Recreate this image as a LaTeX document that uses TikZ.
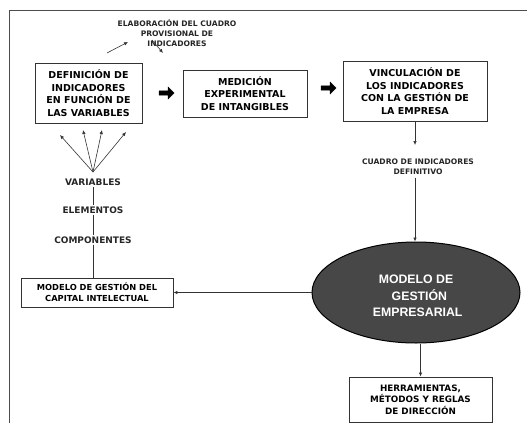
\documentclass[tikz,border=0pt]{standalone}
\usepackage{fontspec}
\setmainfont{DejaVu Sans}
\newfontfamily\arialfont{Liberation Sans}
\usetikzlibrary{arrows.meta,shapes.geometric,shapes.arrows}
\begin{document}
\begin{tikzpicture}[x=1pt,y=-1pt,
  box/.style={draw=black!80,line width=0.9pt,align=center,font=\bfseries\fontsize{9.5}{12.5}\selectfont,inner sep=0pt,fill=white},
  lbl/.style={align=center,font=\bfseries\fontsize{7.6}{10}\selectfont,inner sep=1pt,text=black!85},
  vlbl/.style={align=center,font=\bfseries\fontsize{9}{10}\selectfont,inner sep=1pt,text=black!85},
  conn/.style={draw=black!80,line width=0.6pt},
  arr/.style={conn,-{Latex[length=4pt,width=3.5pt]}},
  fat/.style={single arrow,fill=black,draw=black,minimum height=15pt,minimum width=12pt,single arrow head extend=2.5pt,single arrow head indent=0pt,inner sep=1.2pt}]
\useasboundingbox (0,0) rectangle (527,423);
\draw[black!70,line width=1pt] (527,10) -- (9,10) -- (9,423);
% boxes
\node[box,minimum width=107pt,minimum height=60pt] (def) at (88.5,93) {DEFINICIÓN DE\\INDICADORES\\EN FUNCIÓN DE\\LAS VARIABLES};
\node[box,minimum width=124pt,minimum height=47pt] (med) at (245,93.5) {MEDICIÓN\\EXPERIMENTAL\\DE INTANGIBLES};
\node[box,minimum width=144pt,minimum height=60pt] (vin) at (415,91) {VINCULACIÓN DE\\LOS INDICADORES\\CON LA GESTIÓN DE\\LA EMPRESA};
\node[fat] (f1) at (165.5,93) {};
\node[fat] (f2) at (327.5,88) {};
% top label
\node[lbl] (ela) at (177,33) {ELABORACIÓN DEL CUADRO\\PROVISIONAL DE\\INDICADORES};
\coordinate (e1s) at (107,53);
\coordinate (e1e) at (128,42);
\coordinate (e2s) at (152,40);
\coordinate (e2e) at (163,53);
\draw[arr] (e1s) -- (e1e);
\draw[arr] (e2s) -- (e2e);
% cuadro definitivo
\node[lbl] (cua) at (418,166.5) {CUADRO DE INDICADORES\\DEFINITIVO};
\node[ellipse,draw=black,line width=1pt,fill=black!72,minimum width=208pt,minimum height=101pt,inner sep=0pt] (mod) at (416,292.5) {};
\node[align=center,text=white,font=\arialfont\bfseries\fontsize{12.3}{16.5}\selectfont] (modt) at (416,296) {MODELO DE\\\ \ GESTIÓN\\\ EMPRESARIAL};
\draw[arr] (vin.south -| 415,0) -- (415,145);
\draw[arr] (cua.south -| 415,0) ++(0,2) -- (mod.north -| 415,0);
% capital intelectual
\node[box,font=\bfseries\fontsize{8.3}{11}\selectfont,minimum width=152pt,minimum height=29pt] (cap) at (97,292.5) {MODELO DE GESTIÓN DEL\\CAPITAL INTELECTUAL};
\draw[arr] (mod.west) -- (cap.east);
% herramientas
\node[box,font=\bfseries\fontsize{8.8}{11.5}\selectfont,minimum width=143pt,minimum height=45pt] (her) at (420.5,399.5) {HERRAMIENTAS,\\MÉTODOS Y REGLAS\\DE DIRECCIÓN};
\draw[arr] (mod.south -| her) -- (her.north);
% variables chain
\node[vlbl] (var) at (93,182) {VARIABLES};
\node[vlbl] (ele) at (93,210) {ELEMENTOS};
\node[vlbl] (com) at (93,240) {COMPONENTES};
\draw[conn] (var) -- (ele);
\draw[conn] (ele) -- (com);
\draw[conn] (com) -- (cap.north -| com);
\coordinate (fan) at (93,172);
\coordinate (t1) at (60,135);
\coordinate (t2) at (83,130);
\coordinate (t3) at (102,130);
\coordinate (t4) at (126,132);
\foreach \t in {t1,t2,t3,t4} \draw[arr] (fan) -- (\t);
\end{tikzpicture}
\end{document}
